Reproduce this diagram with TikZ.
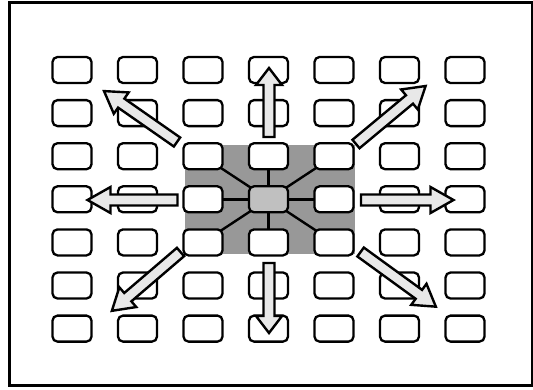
\documentclass[tikz,border=0pt]{standalone}
\usetikzlibrary{calc}
\pgfdeclarelayer{bg}
\pgfdeclarelayer{mid}
\pgfsetlayers{bg,mid,main}
\definecolor{panelgray}{HTML}{989898}
\definecolor{hubgray}{HTML}{C0C0C0}
\definecolor{arrowfill}{HTML}{E8E8E8}
\tikzset{
  cell/.style={draw=black, line width=2.3pt, rounded corners=5pt, fill=white,
    minimum width=39pt, minimum height=26pt, inner sep=0pt},
  hub/.style={cell, fill=hubgray},
  spoke/.style={line width=2.4pt},
  arrowline/.style={draw=black, fill=arrowfill, line width=2.4pt, line join=miter},
  pics/bigarrow/.style 2 args={code={
    \path[arrowline] (0,-5.5) -- (#1-#2,-5.5) -- (#1-#2,-13) -- (#1,0)
      -- (#1-#2,13) -- (#1-#2,5.5) -- (0,5.5) -- cycle;
  }}
}
\begin{document}
\begin{tikzpicture}[x=1pt,y=-1pt]
\useasboundingbox (0,0) rectangle (533,389);
\draw[line width=3pt] (9.5,2.5) rectangle (532,385.5);
% grid of cells
\foreach \r in {1,...,7}{
  \foreach \c in {1,...,7}{
    \pgfmathsetmacro{\xx}{72+65.5*(\c-1)}
    \pgfmathsetmacro{\yy}{70+43.1*(\r-1)}
    \ifnum\r=4 \ifnum\c=4 \node[hub] (b\r\c) at (\xx,\yy) {};
      \else \node[cell] (b\r\c) at (\xx,\yy) {}; \fi
    \else \node[cell] (b\r\c) at (\xx,\yy) {}; \fi
  }
}
\begin{pgfonlayer}{bg}
  \fill[panelgray] (185,145) rectangle (355,254);
\end{pgfonlayer}
\begin{pgfonlayer}{mid}
  \foreach \n in {33,34,35,43,45,53,54,55}{
    \draw[spoke] (b44.center) -- (b\n.center);
  }
\end{pgfonlayer}
% arrows
\coordinate (tN) at (269,137);
\coordinate (tS) at (269,263);
\coordinate (tW) at (177.5,200);
\coordinate (tE) at (361,200);
\coordinate (tNW) at (177,142);
\coordinate (tNE) at (356,144);
\coordinate (tSW) at (180.5,252);
\coordinate (tSE) at (360.6,252);
\pic[rotate=90] at (tN) {bigarrow={69}{17}};
\pic[rotate=-90] at (tS) {bigarrow={70}{17}};
\pic[rotate=180] at (tW) {bigarrow={90}{23}};
\pic[rotate=0] at (tE) {bigarrow={92.5}{23}};
\pic[rotate=145.1] at (tNW) {bigarrow={89}{21}};
\pic[rotate=39.8] at (tNE) {bigarrow={90.6}{21}};
\pic[rotate=220.6] at (tSW) {bigarrow={90.4}{21}};
\pic[rotate=-36] at (tSE) {bigarrow={93}{21}};
\end{tikzpicture}
\end{document}
